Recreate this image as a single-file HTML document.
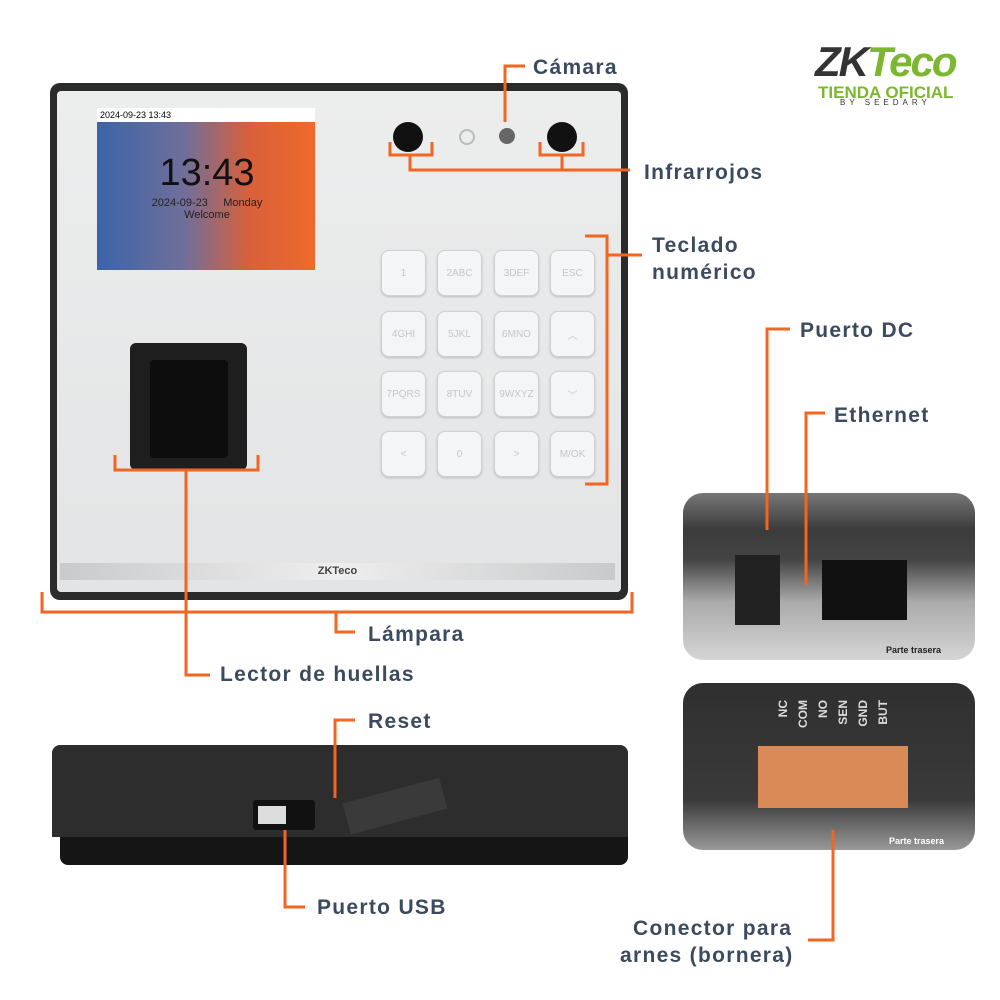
<!DOCTYPE html>
<html><head><meta charset="utf-8"><style>
body{margin:0;width:1000px;height:1000px;background:#fff;position:relative;overflow:hidden;font-family:"Liberation Sans",sans-serif}
.a{position:absolute}
.lbl{position:absolute;font-weight:bold;font-size:21px;letter-spacing:1.3px;color:#3b4a5e;white-space:nowrap;line-height:1}
.key{position:absolute;width:43px;height:44px;border:1px solid #cfd1d4;border-radius:8px;background:#f4f5f6;box-shadow:0 1px 2px #bbb;color:#c4c6c9;font-size:10px;display:flex;align-items:center;justify-content:center}
.pin{writing-mode:vertical-rl;transform:rotate(180deg);font-size:12px;color:#ddd;font-weight:bold;position:absolute;top:700px}
</style></head><body>
<div class="a" style="left:50px;top:83px;width:578px;height:517px;background:#2b2b2b;border-radius:10px"></div>
<div class="a" style="left:57px;top:91px;width:564px;height:501px;background:linear-gradient(180deg,#eceded,#e3e4e5);border-radius:4px"></div>
<div class="a" style="left:97px;top:108px;width:218px;height:162px;background:linear-gradient(90deg,#3c63a8 0%,#6f6f9a 40%,#d9603a 70%,#ef6a2a 100%)"></div>
<div class="a" style="left:97px;top:108px;width:218px;height:14px;background:#fff;font-size:9px;line-height:14px;padding-left:3px;box-sizing:border-box">2024-09-23 13:43</div>
<div class="a" style="left:97px;top:152px;width:220px;text-align:center;font-size:38px;color:#111">13:43</div>
<div class="a" style="left:97px;top:197px;width:220px;text-align:center;font-size:11px;color:#222">2024-09-23 &nbsp;&nbsp;&nbsp; Monday</div>
<div class="a" style="left:97px;top:209px;width:220px;text-align:center;font-size:11px;color:#222">Welcome</div>
<div class="a" style="left:393px;top:122px;width:30px;height:30px;border-radius:50%;background:#111"></div>
<div class="a" style="left:547px;top:122px;width:30px;height:30px;border-radius:50%;background:#111"></div>
<div class="a" style="left:459px;top:129px;width:12px;height:12px;border-radius:50%;border:2px solid #bbb"></div>
<div class="a" style="left:499px;top:128px;width:16px;height:16px;border-radius:50%;background:#666"></div>
<div class="key" style="left:381px;top:250px">1</div><div class="key" style="left:437px;top:250px">2ABC</div><div class="key" style="left:494px;top:250px">3DEF</div><div class="key" style="left:550px;top:250px">ESC</div>
<div class="key" style="left:381px;top:311px">4GHI</div><div class="key" style="left:437px;top:311px">5JKL</div><div class="key" style="left:494px;top:311px">6MNO</div><div class="key" style="left:550px;top:311px">︿</div>
<div class="key" style="left:381px;top:371px">7PQRS</div><div class="key" style="left:437px;top:371px">8TUV</div><div class="key" style="left:494px;top:371px">9WXYZ</div><div class="key" style="left:550px;top:371px">﹀</div>
<div class="key" style="left:381px;top:431px">&lt;</div><div class="key" style="left:437px;top:431px">0</div><div class="key" style="left:494px;top:431px">&gt;</div><div class="key" style="left:550px;top:431px">M/OK</div>
<div class="a" style="left:130px;top:343px;width:117px;height:127px;background:#1e1e1e;border-radius:6px"></div>
<div class="a" style="left:150px;top:360px;width:78px;height:98px;background:#0d0d0d;border-radius:4px"></div>
<div class="a" style="left:60px;top:563px;width:555px;height:17px;background:linear-gradient(90deg,#c9cacb,#eee,#c9cacb);text-align:center;font-size:11px;font-weight:bold;color:#444;line-height:17px">ZKTeco</div>
<div class="a" style="left:52px;top:745px;width:576px;height:92px;background:#2d2d2d;border-radius:8px 8px 0 0"></div>
<div class="a" style="left:60px;top:837px;width:568px;height:28px;background:#151515;border-radius:0 0 8px 8px"></div>
<div class="a" style="left:253px;top:800px;width:62px;height:30px;background:#111;border-radius:3px"></div>
<div class="a" style="left:258px;top:806px;width:28px;height:18px;background:#ddd"></div>
<div class="a" style="left:345px;top:790px;width:100px;height:32px;background:#3a3a3a;transform:rotate(-15deg)"></div>
<div class="a" style="left:683px;top:493px;width:292px;height:167px;border-radius:20px;background:linear-gradient(180deg,#777 0%,#3b3b3b 22%,#444 40%,#aaa 65%,#d5d5d5 100%)"></div>
<div class="a" style="left:735px;top:555px;width:45px;height:70px;background:#222"></div>
<div class="a" style="left:822px;top:560px;width:85px;height:60px;background:#111"></div>
<div class="a" style="left:683px;top:683px;width:292px;height:167px;border-radius:20px;background:linear-gradient(180deg,#2f2f2f 0%,#3a3a3a 70%,#999 100%)"></div>
<div class="a" style="left:758px;top:746px;width:150px;height:62px;background:#d98a56"></div>
<div class="pin" style="left:776px">NC</div><div class="pin" style="left:796px">COM</div><div class="pin" style="left:816px">NO</div><div class="pin" style="left:836px">SEN</div><div class="pin" style="left:856px">GND</div><div class="pin" style="left:876px">BUT</div>
<div class="a" style="left:886px;top:645px;font-size:9px;color:#222;font-weight:bold">Parte trasera</div>
<div class="a" style="left:889px;top:836px;font-size:9px;color:#fff;font-weight:bold">Parte trasera</div>
<div class="a" style="left:815px;top:38px;font-size:42px;font-weight:bold;font-style:italic;color:#333;letter-spacing:-2px">ZK<span style="color:#7cb82f">Teco</span></div>
<div class="a" style="left:818px;top:83px;font-size:17px;font-weight:bold;color:#7cb82f">TIENDA OFICIAL</div>
<div class="a" style="left:840px;top:98px;font-size:8px;color:#333;letter-spacing:4px">BY SEEDARY</div>
<svg class="a" style="left:0;top:0" width="1000" height="1000" fill="none" stroke="#f26522" stroke-width="3">
<path d="M505 122V66H525"/>
<path d="M390 142V155H432V142M540 142V155H583V142M410 155V170H630M562 155V170"/>
<path d="M585 236H607V484H585M607 255H642"/>
<path d="M115 455V470H258V455M186 470V675H210"/>
<path d="M42 592V612H632V592M336 612V632H355"/>
<path d="M767 530V329H790M806 585V413H825"/>
<path d="M833 830V940H808"/>
<path d="M335 798V720H355M285 830V907H305"/>
</svg>
<div class="lbl" style="left:533px;top:57px">Cámara</div>
<div class="lbl" style="left:644px;top:162px">Infrarrojos</div>
<div class="lbl" style="left:652px;top:235px">Teclado</div>
<div class="lbl" style="left:652px;top:262px">numérico</div>
<div class="lbl" style="left:800px;top:320px">Puerto DC</div>
<div class="lbl" style="left:834px;top:405px">Ethernet</div>
<div class="lbl" style="left:368px;top:624px">Lámpara</div>
<div class="lbl" style="left:220px;top:664px">Lector de huellas</div>
<div class="lbl" style="left:368px;top:711px">Reset</div>
<div class="lbl" style="left:317px;top:897px">Puerto USB</div>
<div class="lbl" style="left:633px;top:918px">Conector para</div>
<div class="lbl" style="left:620px;top:945px">arnes (bornera)</div>
</body></html>
